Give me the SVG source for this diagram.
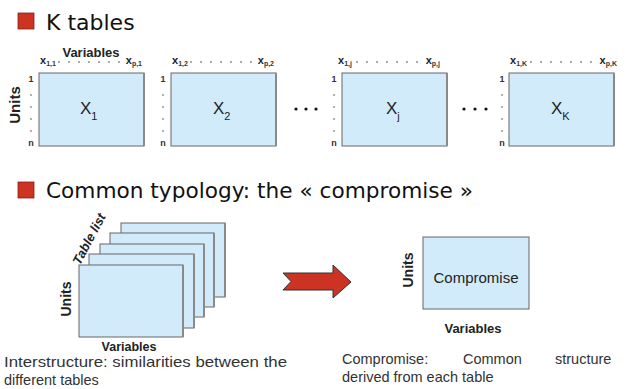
<svg xmlns="http://www.w3.org/2000/svg" width="626" height="389" viewBox="0 0 626 389">
<style>
.bg{fill:#ffffff}
.bullet{fill:#cc3322;stroke:#8a1f14;stroke-width:0.8}
.head{font-family:"DejaVu Sans","Liberation Sans",sans-serif;font-size:22px;fill:#111}
.tbl{fill:#d2ebfa;stroke:#666;stroke-width:1}
.edge{stroke:#8a8a8a;stroke-width:2}
.lbl{font-family:"Liberation Sans",Arial,sans-serif;fill:#222}
.bold{font-weight:bold}
.big{font-size:17px}
.sub{font-size:11px}
.row{font-size:9px;font-weight:bold;fill:#333}
.col{font-size:11px;font-weight:bold;fill:#222}
.csub{font-size:7px;fill:#333}
.dash{stroke:#555;stroke-width:1;stroke-dasharray:2 8}
.rdash{stroke:#666;stroke-width:1}
.body{font-family:"Liberation Sans",Arial,sans-serif;font-size:14.5px;fill:#333}
.dot{fill:#111}
.arrow{fill:#cc3322;stroke:#333;stroke-width:1}
</style>
<rect class="bg" x="0" y="0" width="626" height="389"/>

<g id="title1">
  <rect class="bullet" x="18" y="13" width="16" height="16"/>
  <text class="head" x="46" y="30">K tables</text>
</g>

<g id="table1">
  <text class="lbl bold" x="91" y="57" font-size="13" text-anchor="middle">Variables</text>
  <text class="lbl bold" font-size="15" text-anchor="middle" transform="translate(20,105) rotate(-90)">Units</text>
  <text class="lbl col" x="40" y="64">x<tspan class="csub" dy="2">1,1</tspan></text>
  <line class="dash" x1="58" y1="62" x2="124" y2="62"/>
  <text class="lbl col" x="142" y="64" text-anchor="end">x<tspan class="csub" dy="2">p,1</tspan></text>
  <rect class="tbl" x="39" y="73" width="105" height="73"/>
  <line class="edge" x1="144" y1="73" x2="144" y2="146"/>
  <text class="lbl row" x="31" y="82" text-anchor="middle">1</text>
  <line class="rdash" x1="30" y1="95" x2="32" y2="95"/><line class="rdash" x1="30" y1="107" x2="32" y2="107"/><line class="rdash" x1="30" y1="119" x2="32" y2="119"/><line class="rdash" x1="30" y1="131" x2="32" y2="131"/>
  <text class="lbl row" x="31" y="146" text-anchor="middle" font-weight="normal">n</text>
  <text class="lbl big" x="80" y="114">X<tspan class="sub" dy="6">1</tspan></text>
</g>

<g id="table2">
  <text class="lbl col" x="172" y="64">x<tspan class="csub" dy="2">1,2</tspan></text>
  <line class="dash" x1="190" y1="62" x2="256" y2="62"/>
  <text class="lbl col" x="274" y="64" text-anchor="end">x<tspan class="csub" dy="2">p,2</tspan></text>
  <rect class="tbl" x="171" y="73" width="105" height="73"/>
  <line class="edge" x1="276" y1="73" x2="276" y2="146"/>
  <text class="lbl row" x="163" y="82" text-anchor="middle">1</text>
  <line class="rdash" x1="162" y1="95" x2="164" y2="95"/><line class="rdash" x1="162" y1="107" x2="164" y2="107"/><line class="rdash" x1="162" y1="119" x2="164" y2="119"/><line class="rdash" x1="162" y1="131" x2="164" y2="131"/>
  <text class="lbl row" x="163" y="146" text-anchor="middle" font-weight="normal">n</text>
  <text class="lbl big" x="213" y="114">X<tspan class="sub" dy="6">2</tspan></text>
</g>

<g id="dots1">
  <circle class="dot" cx="296" cy="109" r="1.6"/><circle class="dot" cx="306" cy="109" r="1.6"/><circle class="dot" cx="316" cy="109" r="1.6"/>
</g>

<g id="tablej">
  <text class="lbl col" x="338" y="64">x<tspan class="csub" dy="2">1,j</tspan></text>
  <line class="dash" x1="356" y1="62" x2="418" y2="62"/>
  <text class="lbl col" x="440" y="64" text-anchor="end">x<tspan class="csub" dy="2">p,j</tspan></text>
  <rect class="tbl" x="342" y="73" width="105" height="73"/>
  <line class="edge" x1="447" y1="73" x2="447" y2="146"/>
  <text class="lbl row" x="334" y="82" text-anchor="middle">1</text>
  <line class="rdash" x1="333" y1="95" x2="335" y2="95"/><line class="rdash" x1="333" y1="107" x2="335" y2="107"/><line class="rdash" x1="333" y1="119" x2="335" y2="119"/><line class="rdash" x1="333" y1="131" x2="335" y2="131"/>
  <text class="lbl row" x="334" y="146" text-anchor="middle" font-weight="normal">n</text>
  <text class="lbl big" x="386" y="114">X<tspan class="sub" dy="6">j</tspan></text>
</g>

<g id="dots2">
  <circle class="dot" cx="464" cy="109" r="1.6"/><circle class="dot" cx="475" cy="109" r="1.6"/><circle class="dot" cx="486" cy="109" r="1.6"/>
</g>

<g id="tableK">
  <text class="lbl col" x="510" y="64">x<tspan class="csub" dy="2">1,K</tspan></text>
  <line class="dash" x1="530" y1="62" x2="592" y2="62"/>
  <text class="lbl col" x="617" y="64" text-anchor="end">x<tspan class="csub" dy="2">p,K</tspan></text>
  <rect class="tbl" x="509" y="73" width="105" height="73"/>
  <line class="edge" x1="614" y1="73" x2="614" y2="146"/>
  <text class="lbl row" x="502" y="82" text-anchor="middle">1</text>
  <line class="rdash" x1="501" y1="95" x2="503" y2="95"/><line class="rdash" x1="501" y1="107" x2="503" y2="107"/><line class="rdash" x1="501" y1="119" x2="503" y2="119"/><line class="rdash" x1="501" y1="131" x2="503" y2="131"/>
  <text class="lbl row" x="502" y="146" text-anchor="middle" font-weight="normal">n</text>
  <text class="lbl big" x="551" y="114">X<tspan class="sub" dy="6">K</tspan></text>
</g>

<g id="title2">
  <rect class="bullet" x="18" y="182" width="16" height="16"/>
  <text class="head" x="46" y="198" textLength="427" lengthAdjust="spacingAndGlyphs">Common typology: the « compromise »</text>
</g>

<g id="stack">
  <rect class="tbl" x="121" y="223" width="104" height="74"/>
  <line class="edge" x1="225" y1="223" x2="225" y2="297"/>
  <rect class="tbl" x="110" y="233" width="104" height="74"/>
  <line class="edge" x1="214" y1="233" x2="214" y2="307"/>
  <rect class="tbl" x="100" y="244" width="104" height="73"/>
  <line class="edge" x1="204" y1="244" x2="204" y2="317"/>
  <rect class="tbl" x="89" y="254" width="105" height="74"/>
  <line class="edge" x1="194" y1="254" x2="194" y2="328"/>
  <rect class="tbl" x="79" y="265" width="104" height="72"/>
  <line class="edge" x1="183" y1="265" x2="183" y2="337"/>
  <text class="lbl bold" font-size="13" font-style="italic" text-anchor="middle" transform="translate(93,241) rotate(-62)">Table list</text>
  <text class="lbl bold" font-size="14" text-anchor="middle" transform="translate(71,299) rotate(-90)">Units</text>
  <text class="lbl bold" x="129" y="351" font-size="12.5" text-anchor="middle">Variables</text>
  <text class="body" x="4" y="367" textLength="283" lengthAdjust="spacingAndGlyphs">Interstructure: similarities between the</text>
  <text class="body" x="4" y="385">different tables</text>
</g>

<g id="connectors">
  <path class="arrow" d="M283,273 L333,273 L333,265 L351,282 L333,298 L333,290 L283,290 L291,281.5 Z"/>
</g>

<g id="compromise">
  <rect class="tbl" x="423" y="237" width="106" height="72"/>
  <text class="lbl" x="476" y="283" font-size="15" text-anchor="middle">Compromise</text>
  <text class="lbl bold" font-size="14" text-anchor="middle" transform="translate(413,270) rotate(-90)">Units</text>
  <text class="lbl bold" x="473" y="333" font-size="13" text-anchor="middle">Variables</text>
  <text class="body" y="364"><tspan x="342">Compromise:</tspan><tspan x="463">Common</tspan><tspan x="555">structure</tspan></text>
  <text class="body" x="342" y="382">derived from each table</text>
</g>
</svg>
